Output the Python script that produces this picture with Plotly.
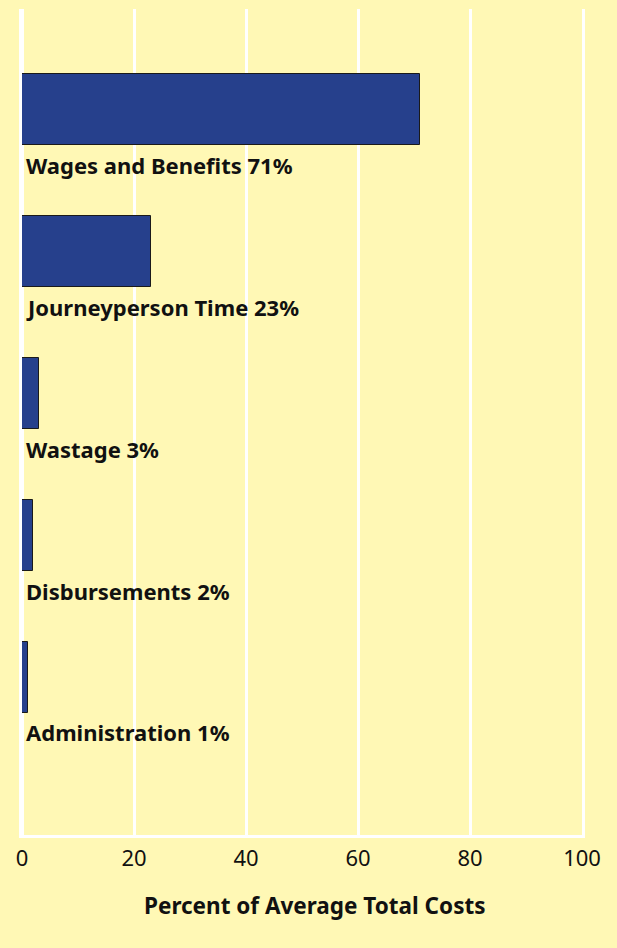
import plotly.graph_objects as go

categories = ["Wages and Benefits", "Journeyperson Time", "Wastage", "Disbursements", "Administration"]
values = [71, 23, 3, 2, 1]
tick_vals = [0, 20, 40, 60, 80, 100]
x_title = "Percent of Average Total Costs"

BG = "#FFF8B5"
BAR = "#26408C"
FONT = "Noto Sans"

pos = list(range(len(categories)))

fig = go.Figure()
fig.add_trace(go.Bar(
    x=values, y=pos, orientation="h", width=0.5,
    marker=dict(color=BAR, line=dict(color="#1a1a1a", width=1)),
    hoverinfo="skip",
))

for p, c, v in zip(pos, categories, values):
    fig.add_annotation(
        x=0, y=p + 0.39, xref="x", yref="y",
        text=f"<b>{c} {v}%</b>", showarrow=False,
        xanchor="left", yanchor="middle", xshift=2,
        font=dict(family=FONT, size=22, color="#111111"),
    )

fig.add_annotation(
    x=0.5, y=0, xref="paper", yref="paper", yshift=-70, xshift=12,
    text=f"<b>{x_title}</b>", showarrow=False,
    xanchor="center", yanchor="middle",
    font=dict(family=FONT, size=22.5, color="#111111"),
)

fig.update_layout(
    width=617, height=948,
    margin=dict(l=22, r=35, t=9, b=113),
    paper_bgcolor=BG, plot_bgcolor=BG,
    showlegend=False,
    bargap=0,
)
fig.update_xaxes(
    range=[0, 100], tickvals=tick_vals, ticktext=[str(t) for t in tick_vals],
    showgrid=True, gridcolor="white", gridwidth=3,
    zeroline=True, zerolinecolor="white", zerolinewidth=3,
    showline=True, linecolor="white", linewidth=3, mirror=False,
    ticks="", ticklabelstandoff=2,
    tickfont=dict(family=FONT, size=22, color="#111111"),
)
fig.update_yaxes(
    range=[5.113, -0.708], showticklabels=False, showgrid=False,
    zeroline=False, showline=True, linecolor="white", linewidth=3,
    mirror=True, ticks="",
)

fig.write_html(
    "out.html",
    config={"displayModeBar": False},
    post_script="document.body.style.margin='0';document.body.style.background='%s';" % BG,
)
